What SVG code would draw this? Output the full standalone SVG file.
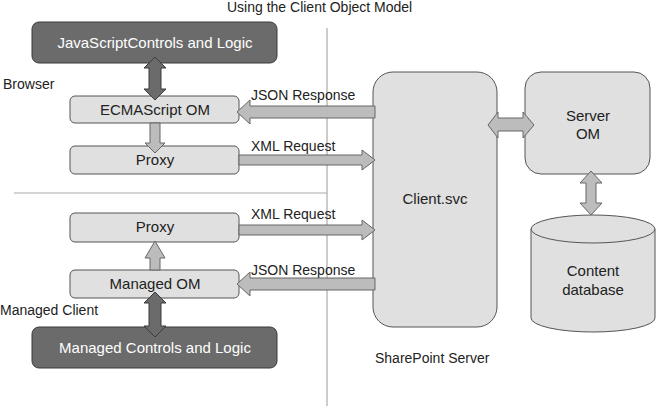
<svg xmlns="http://www.w3.org/2000/svg" width="656" height="406" viewBox="0 0 656 406">
<style>
text{font-family:"Liberation Sans",Arial,sans-serif;font-size:15px;fill:#222}
.c{text-anchor:middle}
.s{font-size:14px}
.w{fill:#fff}
.dark{fill:#6b6b6b;stroke:#3a3a3a;stroke-width:1}
.light{fill:#e0e0e0;stroke:#555;stroke-width:1}
.arr{fill:#bcbcbc;stroke:#666;stroke-width:1}
.darr{fill:#6b6b6b;stroke:#3a3a3a;stroke-width:1}
.sep{stroke:#aaa;stroke-width:1.2;fill:none}
</style>
<rect width="656" height="406" fill="#fff"/>
<g id="separators">
<line class="sep" x1="327" y1="28" x2="327" y2="406"/>
<line class="sep" x1="14" y1="193" x2="327" y2="193"/>
</g>
<text class="s" x="227" y="12">Using the Client Object Model</text>
<text class="s" x="3" y="89">Browser</text>
<text class="s" x="0" y="315">Managed Client</text>
<text class="s" x="375" y="363">SharePoint Server</text>
<text class="s" x="251" y="100">JSON Response</text>
<text class="s" x="251" y="151">XML Request</text>
<text class="s" x="251" y="219">XML Request</text>
<text class="s" x="251" y="275">JSON Response</text>
<g id="js-controls">
<rect class="dark" x="32" y="22" width="245" height="41" rx="7"/>
<text class="c w" x="155" y="48">JavaScriptControls and Logic</text>
</g>
<g id="ecmascript-om">
<rect class="light" x="70" y="96" width="169" height="27" rx="5"/>
<text class="c" x="155" y="115">ECMAScript OM</text>
</g>
<g id="proxy-browser">
<rect class="light" x="70" y="146" width="169" height="28" rx="5"/>
<text class="c" x="155" y="165">Proxy</text>
</g>
<g id="proxy-managed">
<rect class="light" x="70" y="213" width="169" height="29" rx="5"/>
<text class="c" x="155" y="232">Proxy</text>
</g>
<g id="managed-om">
<rect class="light" x="70" y="270" width="169" height="28" rx="5"/>
<text class="c" x="155" y="289">Managed OM</text>
</g>
<g id="managed-controls">
<rect class="dark" x="32" y="327" width="245" height="41" rx="7"/>
<text class="c w" x="155" y="353">Managed Controls and Logic</text>
</g>
<g id="client-svc">
<rect class="light" x="373" y="72" width="124" height="255" rx="20"/>
<text class="c" x="435" y="204">Client.svc</text>
</g>
<g id="server-om">
<rect class="light" x="525" y="72" width="125" height="102" rx="16"/>
<text class="c" x="588" y="121">Server</text>
<text class="c" x="588" y="139">OM</text>
</g>
<g id="content-db">
<path class="light" d="M531,229 L531,318 A62,14 0 0 0 655,318 L655,229"/>
<ellipse class="light" cx="593" cy="229" rx="62" ry="14"/>
<text class="c" x="593" y="276">Content</text>
<text class="c" x="593" y="295">database</text>
</g>
<g id="connectors">
<polygon class="darr" points="155,57 166,68 161,68 161,89 166,89 155,100 144,89 149,89 149,68 144,68"/>
<polygon class="arr" points="150,123 160,123 160,143 165,143 155,153 145,143 150,143"/>
<polygon class="arr" points="375,106 250,106 250,100 237,112 250,124 250,118 375,118"/>
<polygon class="arr" points="239,155 362,155 362,150 375,160 362,170 362,165 239,165"/>
<polygon class="arr" points="239,225 362,225 362,220 375,230 362,240 362,235 239,235"/>
<polygon class="arr" points="375,278 250,278 250,272 237,284 250,296 250,290 375,290"/>
<polygon class="arr" points="150,270 160,270 160,258 165,258 155,241 145,258 150,258"/>
<polygon class="darr" points="155,292 166,303 161,303 161,326 166,326 155,337 144,326 149,326 149,303 144,303"/>
<polygon class="arr" points="488,125 498,112 498,118 523,118 523,112 534,125 523,138 523,131 498,131 498,138"/>
<polygon class="arr" points="591,171 602,183 596,183 596,203 602,203 591,215 580,203 586,203 586,183 580,183"/>
</g>
</svg>
